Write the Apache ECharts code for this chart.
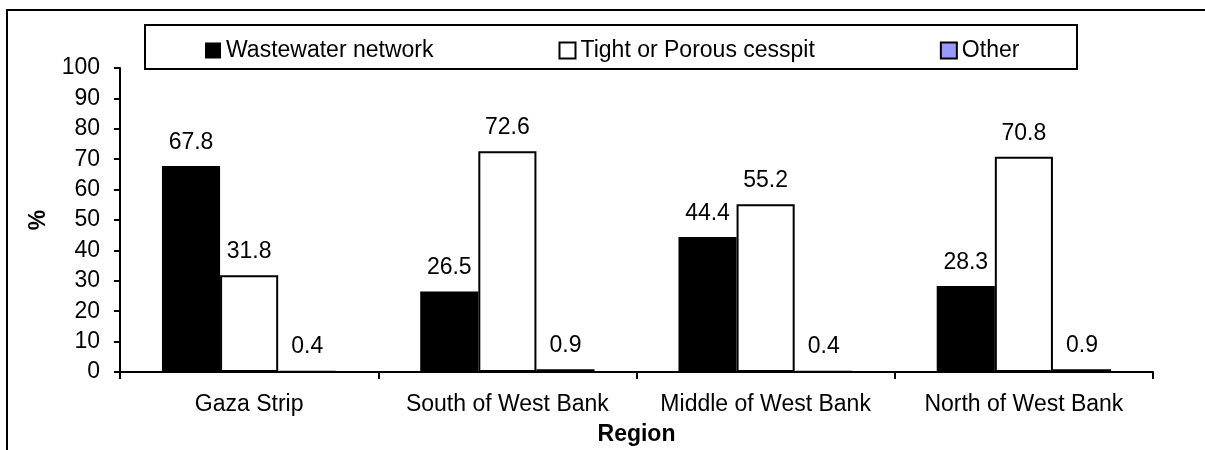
<!DOCTYPE html>
<html>
<head>
<meta charset="utf-8">
<script src="https://cdn.jsdelivr.net/npm/echarts@6/dist/echarts.min.js"></script>
<style>html,body{margin:0;padding:0;background:#fff}#c{width:1205px;height:450px}</style>
</head>
<body>
<div id="c"></div>
<script>
const categories = ['Gaza Strip', 'South of West Bank', 'Middle of West Bank', 'North of West Bank'];
const seriesNames = ['Wastewater network', 'Tight or Porous cesspit', 'Other'];
const wastewater = [67.8, 26.5, 44.4, 28.3];
const cesspit = [31.8, 72.6, 55.2, 70.8];
const other = [0.4, 0.9, 0.4, 0.9];
const yTicks = [0, 10, 20, 30, 40, 50, 60, 70, 80, 90, 100];

const FONT = '"Liberation Sans", Arial, sans-serif';
const FS = 23;

const chart = echarts.init(document.getElementById('c'), null, {renderer: 'canvas'});
const label = {show: true, position: 'top', distance: 12, color: '#000', fontSize: FS, fontFamily: FONT};
chart.setOption({
  animation: false,
  backgroundColor: '#fff',
  textStyle: {fontFamily: FONT},
  graphic: [
    {type: 'rect', shape: {x: 7, y: 10, width: 1300, height: 500}, style: {fill: 'none', stroke: '#000', lineWidth: 2}, z: 100},
    {type: 'rect', shape: {x: 145, y: 25, width: 932, height: 44}, style: {fill: 'none', stroke: '#000', lineWidth: 2}, z: 100}
  ],
  legend: {
    left: 205, top: 39, itemWidth: 16, itemHeight: 16, itemGap: 125, padding: 0,
    icon: 'rect',
    textStyle: {fontSize: FS, fontFamily: FONT, color: '#000'},
    data: seriesNames
  },
  grid: {left: 120, right: 52, top: 68, bottom: 78, containLabel: false, outerBoundsMode: 'none'},
  xAxis: {
    type: 'category', data: categories,
    name: 'Region', nameLocation: 'middle', nameGap: 51,
    nameTextStyle: {fontSize: FS, fontWeight: 'bold', color: '#000', fontFamily: FONT},
    axisLine: {lineStyle: {color: '#000', width: 2}},
    axisTick: {show: true, interval: 0, length: 7, lineStyle: {color: '#000', width: 2}},
    axisLabel: {interval: 0, hideOverlap: false, fontSize: FS, color: '#000', margin: 21, fontFamily: FONT},
  },
  yAxis: {
    type: 'value', min: 0, max: 100, interval: 10,
    name: '%', nameLocation: 'middle', nameGap: 70, nameRotate: 90,
    nameTextStyle: {fontSize: FS, fontWeight: 'bold', color: '#000', fontFamily: FONT},
    axisLine: {show: true, lineStyle: {color: '#000', width: 2}},
    axisTick: {show: true, length: 6, lineStyle: {color: '#000', width: 2}},
    axisLabel: {fontSize: FS, color: '#000', margin: 20, fontFamily: FONT,
      formatter: v => yTicks.includes(v) ? String(v) : ''},
    splitLine: {show: false}
  },
  series: [
    {name: seriesNames[0], type: 'bar', data: wastewater, barGap: '0%', barCategoryGap: '32.5%',
     itemStyle: {color: '#000', borderColor: '#000', borderWidth: 0}, label: label},
    {name: seriesNames[1], type: 'bar', data: cesspit, barGap: '0%', barCategoryGap: '32.5%',
     itemStyle: {color: '#fff', borderColor: '#000', borderWidth: 2}, label: label},
    {name: seriesNames[2], type: 'bar', data: other, barGap: '0%', barCategoryGap: '32.5%',
     itemStyle: {color: '#9999ff', borderColor: '#000', borderWidth: 1.5}, label: label}
  ]
});
</script>
</body>
</html>
